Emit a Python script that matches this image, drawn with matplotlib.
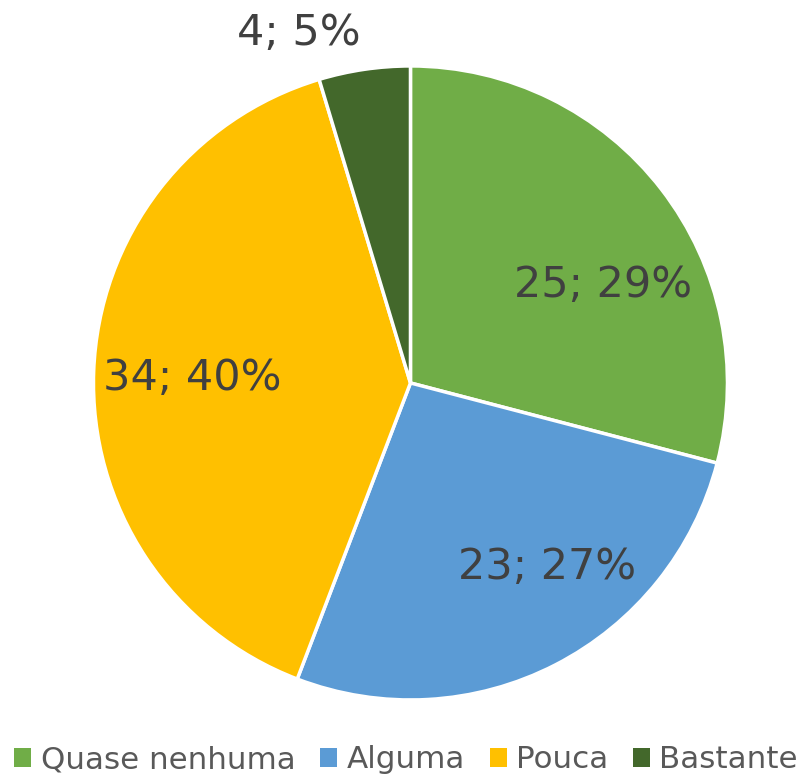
import matplotlib.pyplot as plt
from matplotlib.patches import Patch

categories = ["Quase nenhuma", "Alguma", "Pouca", "Bastante"]
values = [25, 23, 34, 4]
colors = ["#70AD47", "#5B9BD5", "#FFC000", "#43682B"]
# label centres, in units of the pie radius
label_pos = [(0.609, 0.309), (0.432, -0.580), (-0.688, 0.016), (-0.353, 1.104)]

fig = plt.figure(figsize=(8.12, 7.76), dpi=100)
ax = fig.add_axes([0.115, 0.098, 0.781, 0.817])

wedges, _ = ax.pie(values, colors=colors, startangle=90, counterclock=False,
                   wedgeprops=dict(edgecolor="white", linewidth=2.5))
ax.set_aspect("equal")
ax.set_xlim(-1, 1)
ax.set_ylim(-1, 1)

total = sum(values)
for v, (x, y) in zip(values, label_pos):
    pct = round(v / total * 100)
    ax.text(x, y, f"{v}; {pct}%", ha="center", va="center",
            fontsize=31, color="#404040")

handles = [Patch(facecolor=c, edgecolor="none") for c in colors]
fig.legend(handles, categories, loc="lower center", bbox_to_anchor=(0.5, 0.002), ncol=4,
           frameon=False, fontsize=22.3, handlelength=0.55, handleheight=0.55,
           handletextpad=0.3, columnspacing=0.8, borderpad=0, borderaxespad=0,
           labelcolor="#595959")

plt.savefig("out.png")
